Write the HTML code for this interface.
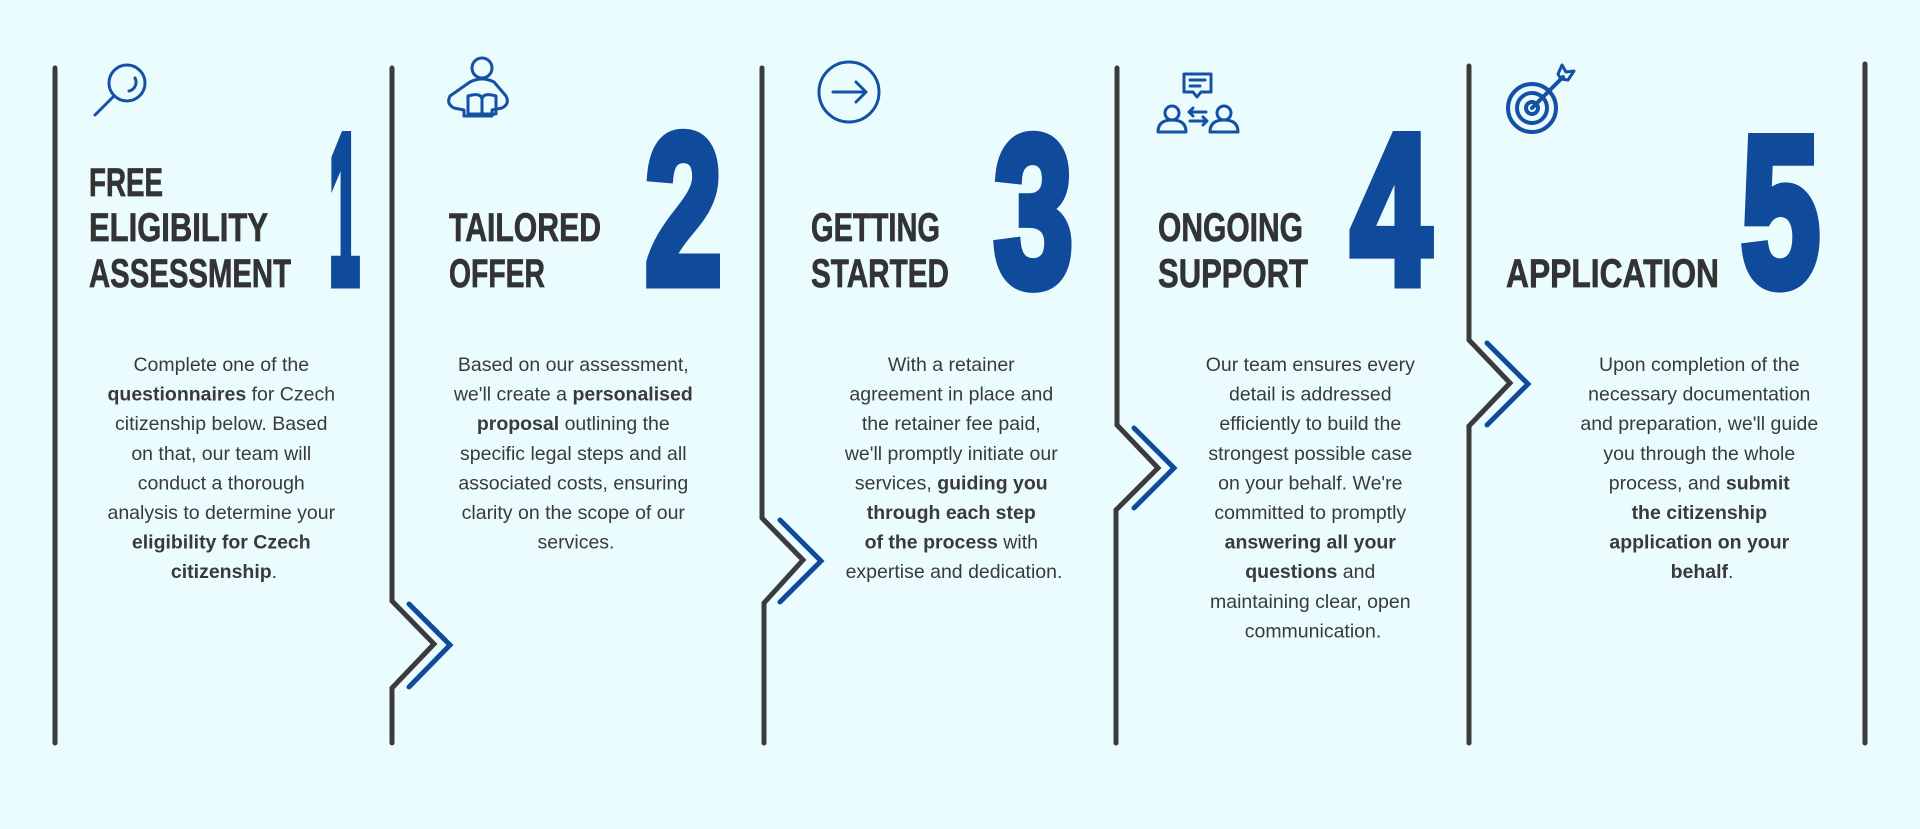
<!DOCTYPE html>
<html><head><meta charset="utf-8"><style>
html,body{margin:0;padding:0;background:#ebfcff;}
svg{display:block}
.t{font-family:"Liberation Sans Narrow","Liberation Sans",sans-serif;font-weight:bold;fill:#333;stroke:#333;stroke-width:0.7px;font-size:40px}
.n{font-family:"Liberation Sans Narrow","Liberation Sans",sans-serif;font-weight:bold;fill:#0f4a9b;stroke:#0f4a9b;stroke-width:11px;stroke-linejoin:miter;font-size:213px}
.b{font-family:"Liberation Sans",sans-serif;font-size:19.5px;fill:#3a3a3a;text-anchor:middle}
.b tspan.k{font-weight:bold}
</style></head><body>
<svg width="1920" height="829" viewBox="0 0 1920 829" xmlns="http://www.w3.org/2000/svg">
<rect width="1920" height="829" fill="#ebfcff"/>
<g fill="none" stroke="#3b3b3b" stroke-width="5" stroke-linecap="round" stroke-linejoin="miter">
<path d="M55 68 V743"/>
<path d="M392 68 V601 L434 644 L392 688 V743"/>
<path d="M762 68 V518 L803 560 L764 603 V743"/>
<path d="M1117 68 V425 L1158 468 L1116 510 V743"/>
<path d="M1469 66 V340 L1510 383 L1469 426 V743"/>
<path d="M1865 64 V743"/>
</g>
<g fill="none" stroke="#0f4a9b" stroke-width="5" stroke-linecap="round">
<path d="M409 604 L450 645 L409 687"/>
<path d="M780 520 L821 561 L780 602"/>
<path d="M1134 428 L1174 468 L1134 508"/>
<path d="M1487 343 L1528 384 L1487 425"/>
</g>
<!-- icons -->
<g fill="none" stroke="#1450a3" stroke-width="3" stroke-linecap="round" stroke-linejoin="round">
<circle cx="127" cy="83" r="18"/><path d="M114 96 L95 115"/><path d="M135 78 a9 9 0 0 1 -6 13"/>
<circle cx="482" cy="68" r="10"/>
<path d="M470 82 q12 -6 24 0 l12 14 q4 8 -4 12 l-10 2 v6 h-28 v-6 l-10 -2 q-8 -4 -4 -12 z"/>
<path d="M468 96 q14 -4 14 4 q0 -8 14 -4 v18 h-28 z"/><path d="M482 100 v14"/>
<circle cx="849" cy="92" r="30"/><path d="M833 92 H866 M856 82 L866 92 L856 102"/>
<path d="M1184 74 h27 v18 h-10 l-4 5 l-4 -5 h-9 z"/><path d="M1190 80 h15 M1190 86 h10"/>
<circle cx="1172" cy="113" r="7"/><path d="M1158 132 q0 -12 14 -12 q14 0 14 12 z"/>
<circle cx="1224" cy="113" r="7"/><path d="M1210 132 q0 -12 14 -12 q14 0 14 12 z"/>
<path d="M1190 112 h16 M1193 108 l-4 4 l4 4 M1190 121 h16 M1203 117 l4 4 l-4 4"/>
<circle cx="1532" cy="108" r="24" stroke-width="4"/><circle cx="1532" cy="108" r="15" stroke-width="4"/><circle cx="1532" cy="108" r="6" stroke-width="4"/>
<path d="M1532 108 L1563 77" stroke-width="4"/><path d="M1558 74 l4 -9 l4 7 l8 -1 l-6 9 l-7 -1 z"/>
</g>
<!-- titles -->
<text class="t" x="89" y="196" textLength="74" lengthAdjust="spacingAndGlyphs">FREE</text>
<text class="t" x="89" y="241" textLength="179" lengthAdjust="spacingAndGlyphs">ELIGIBILITY</text>
<text class="t" x="89" y="287" textLength="202" lengthAdjust="spacingAndGlyphs">ASSESSMENT</text>
<text class="t" x="449" y="241" textLength="152" lengthAdjust="spacingAndGlyphs">TAILORED</text>
<text class="t" x="449" y="287" textLength="96" lengthAdjust="spacingAndGlyphs">OFFER</text>
<text class="t" x="811" y="241" textLength="129" lengthAdjust="spacingAndGlyphs">GETTING</text>
<text class="t" x="811" y="287" textLength="138" lengthAdjust="spacingAndGlyphs">STARTED</text>
<text class="t" x="1158" y="241" textLength="145" lengthAdjust="spacingAndGlyphs">ONGOING</text>
<text class="t" x="1158" y="287" textLength="150" lengthAdjust="spacingAndGlyphs">SUPPORT</text>
<text class="t" x="1506" y="287" textLength="213" lengthAdjust="spacingAndGlyphs">APPLICATION</text>
<!-- numbers -->
<text class="n" x="329" y="283" textLength="31" lengthAdjust="spacingAndGlyphs">1</text>
<text class="n" x="645" y="283" textLength="77" lengthAdjust="spacingAndGlyphs">2</text>
<text class="n" x="994" y="285" textLength="79" lengthAdjust="spacingAndGlyphs">3</text>
<text class="n" x="1351" y="283" textLength="80" lengthAdjust="spacingAndGlyphs">4</text>
<text class="n" x="1741" y="285" textLength="79" lengthAdjust="spacingAndGlyphs">5</text>
<!-- body -->
<text class="b">
<tspan x="224" y="371">Complete one of the</tspan>
<tspan x="224" dy="29.6"><tspan class="k">questionnaires</tspan> for Czech</tspan>
<tspan x="224" dy="29.6">citizenship below. Based</tspan>
<tspan x="224" dy="29.6">on that, our team will</tspan>
<tspan x="224" dy="29.6">conduct a thorough</tspan>
<tspan x="224" dy="29.6">analysis to determine your</tspan>
<tspan x="224" dy="29.6" class="k">eligibility for Czech</tspan>
<tspan x="224" dy="29.6"><tspan class="k">citizenship</tspan>.</tspan>
</text>
<text class="b">
<tspan x="576" y="371">Based on our assessment,</tspan>
<tspan x="576" dy="29.6">we'll create a <tspan class="k">personalised</tspan></tspan>
<tspan x="576" dy="29.6"><tspan class="k">proposal</tspan> outlining the</tspan>
<tspan x="576" dy="29.6">specific legal steps and all</tspan>
<tspan x="576" dy="29.6">associated costs, ensuring</tspan>
<tspan x="576" dy="29.6">clarity on the scope of our</tspan>
<tspan x="576" dy="29.6">services.</tspan>
</text>
<text class="b">
<tspan x="954" y="371">With a retainer</tspan>
<tspan x="954" dy="29.6">agreement in place and</tspan>
<tspan x="954" dy="29.6">the retainer fee paid,</tspan>
<tspan x="954" dy="29.6">we'll promptly initiate our</tspan>
<tspan x="954" dy="29.6">services, <tspan class="k">guiding you</tspan></tspan>
<tspan x="954" dy="29.6" class="k">through each step</tspan>
<tspan x="954" dy="29.6"><tspan class="k">of the process</tspan> with</tspan>
<tspan x="954" dy="29.6">expertise and dedication.</tspan>
</text>
<text class="b">
<tspan x="1313" y="371">Our team ensures every</tspan>
<tspan x="1313" dy="29.6">detail is addressed</tspan>
<tspan x="1313" dy="29.6">efficiently to build the</tspan>
<tspan x="1313" dy="29.6">strongest possible case</tspan>
<tspan x="1313" dy="29.6">on your behalf. We're</tspan>
<tspan x="1313" dy="29.6">committed to promptly</tspan>
<tspan x="1313" dy="29.6" class="k">answering all your</tspan>
<tspan x="1313" dy="29.6"><tspan class="k">questions</tspan> and</tspan>
<tspan x="1313" dy="29.6">maintaining clear, open</tspan>
<tspan x="1313" dy="29.6">communication.</tspan>
</text>
<text class="b">
<tspan x="1702" y="371">Upon completion of the</tspan>
<tspan x="1702" dy="29.6">necessary documentation</tspan>
<tspan x="1702" dy="29.6">and preparation, we'll guide</tspan>
<tspan x="1702" dy="29.6">you through the whole</tspan>
<tspan x="1702" dy="29.6">process, and <tspan class="k">submit</tspan></tspan>
<tspan x="1702" dy="29.6" class="k">the citizenship</tspan>
<tspan x="1702" dy="29.6" class="k">application on your</tspan>
<tspan x="1702" dy="29.6"><tspan class="k">behalf</tspan>.</tspan>
</text>
</svg>
</body></html>
